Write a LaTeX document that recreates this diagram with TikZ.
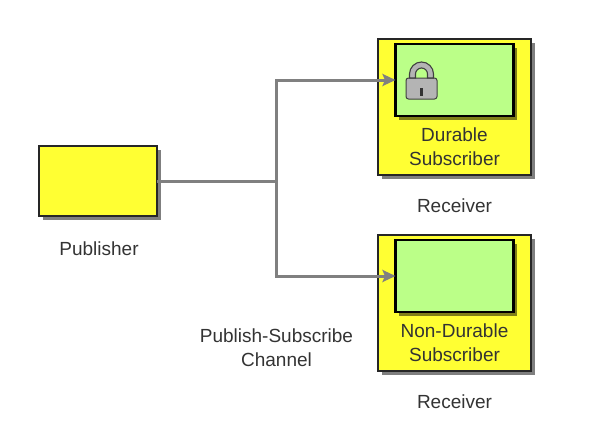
\documentclass[tikz,border=0pt]{standalone}
\usepackage{fontspec}
\setmainfont{Liberation Sans}
\usetikzlibrary{shadows, arrows.meta}
\definecolor{boxyellow}{HTML}{FFFF33}
\definecolor{boxgreen}{HTML}{BBFF88}
\definecolor{lockgray}{HTML}{B4B4B4}
\tikzstyle{dropped} = [drop shadow={shadow xshift=3.5pt, shadow yshift=-3.5pt, fill=black, opacity=0.5}]
\tikzstyle{publisherbox} = [rectangle, minimum width=118pt, minimum height=70pt, outer sep=0pt, draw=black!85, line width=1.1pt, fill=boxyellow, dropped]
\tikzstyle{receiverbox} = [rectangle, minimum width=153pt, minimum height=136pt, outer sep=0pt, draw=black!85, line width=1.1pt, fill=boxyellow, dropped]
\tikzstyle{subscriberbox} = [rectangle, minimum width=118pt, minimum height=72pt, outer sep=0pt, draw=black, line width=2.6pt, fill=boxgreen, dropped]
\tikzstyle{label} = [text=black!80, font=\fontsize{19}{24}\selectfont, align=center, inner sep=0pt]
\tikzstyle{arrow} = [line width=3pt, draw=black!50, -{Stealth[length=13pt, width=12pt, inset=2.5pt]}]
\tikzstyle{line} = [line width=3pt, draw=black!50]

\begin{document}
\begin{tikzpicture}[node distance=196pt]
            \useasboundingbox (0,0) rectangle (602pt,-439pt);
            \node (publisher) [publisherbox] at (98pt,-181pt) {};
            \node (receiver1) [receiverbox] at (454.5pt,-107pt) {};
            \node (receiver2) [receiverbox, below of=receiver1] {};
            \node (durable) [subscriberbox, above of=receiver1, yshift=-169pt] {};
            \node (nondurable) [subscriberbox, below of=durable] {};

            % texts
            \node (publisherlabel) [label] at (99pt,-249pt) {Publisher};
            \node (durablelabel) [label] at (454.5pt,-147pt) {Durable\\Subscriber};
            \node (nondurablelabel) [label, below of=durablelabel] {Non-Durable\\Subscriber};
            \node (receiverlabel1) [label] at (454.5pt,-206pt) {Receiver};
            \node (receiverlabel2) [label, below of=receiverlabel1] {Receiver};
            \node (channellabel) [label] at (276.5pt,-348pt) {Publish-Subscribe\\Channel};

            % padlock
            \node (lockbody) [rectangle, rounded corners=2.5pt, minimum width=31pt, minimum height=21pt, outer sep=0pt, draw=black!75, line width=1pt, fill=lockgray] at (421.5pt,-88.5pt) {};
            \draw [draw=black!75, line width=1.1pt, fill=lockgray] ([xshift=-12pt]lockbody.north) -- ++(0,4pt) arc (180:0:12pt) -- ++(0,-4pt) -- ++(-6pt,0) -- ++(0,4pt) arc (0:180:6pt) -- ++(0,-4pt) -- cycle;
            \node (lockhole) [rectangle, minimum width=3pt, minimum height=8pt, inner sep=0pt, fill=black!80, below of=lockbody, yshift=192.5pt] {};

            % connectors
            \coordinate (junction) at (276pt,-181pt);
            \draw [line] (publisher.east) -- (junction);
            \draw [arrow] (junction) |- (durable.west);
            \draw [arrow] (junction) |- (nondurable.west);
        \end{tikzpicture}
\end{document}
